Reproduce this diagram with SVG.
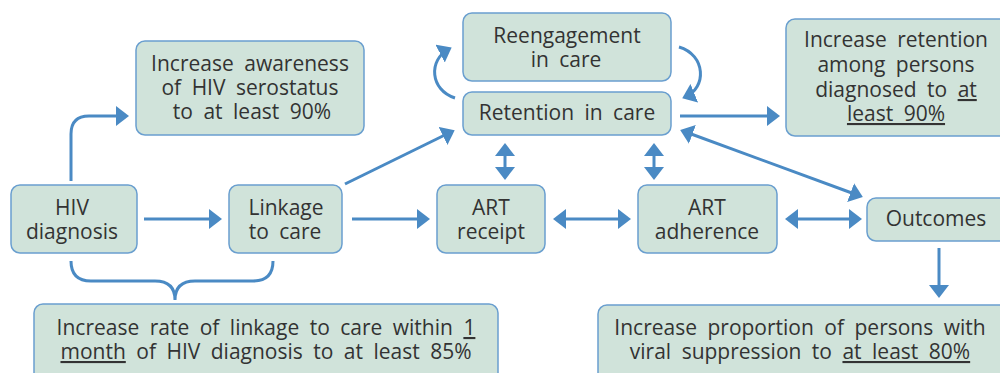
<svg xmlns="http://www.w3.org/2000/svg" width="1000" height="373" viewBox="0 0 1000 373">
<style>
.box{fill:#d0e3da;stroke:#6a9fcf;stroke-width:1.5}
.t{font-family:"Open Sans","Noto Sans",sans-serif;font-size:21px;word-spacing:5px;fill:#333;text-anchor:middle}
.c{fill:none;stroke:#4a8ac4;stroke-width:3}
.u{text-decoration:underline}
</style>
<defs>
<marker id="ah" markerUnits="userSpaceOnUse" markerWidth="13" markerHeight="20" refX="10" refY="10" orient="auto-start-reverse">
<path d="M0,0 L13,10 L0,20 z" fill="#4a8ac4"/>
</marker>
</defs>
<rect width="1000" height="373" fill="#fff"/>
<g id="connectors">
<path class="c" d="M71,181 L71,134 Q71,116 89,116 L126,116" marker-end="url(#ah)"/>
<path class="c" d="M71,261 Q71,281 91,281 L155,281 Q175,281 175,300 Q175,281 195,281 L253,281 Q273,281 273,261"/>
<line class="c" x1="144" y1="219" x2="219" y2="219" marker-end="url(#ah)"/>
<line class="c" x1="352" y1="219" x2="427" y2="219" marker-end="url(#ah)"/>
<line class="c" x1="345" y1="184" x2="452" y2="131.5" marker-end="url(#ah)"/>
<line class="c" x1="556" y1="219" x2="628" y2="219" marker-start="url(#ah)" marker-end="url(#ah)"/>
<line class="c" x1="788" y1="219" x2="859" y2="219" marker-start="url(#ah)" marker-end="url(#ah)"/>
<line class="c" x1="505" y1="146" x2="505" y2="177" marker-start="url(#ah)" marker-end="url(#ah)"/>
<line class="c" x1="654" y1="146" x2="654" y2="177" marker-start="url(#ah)" marker-end="url(#ah)"/>
<line class="c" x1="683" y1="131" x2="860" y2="196" marker-start="url(#ah)" marker-end="url(#ah)"/>
<line class="c" x1="680" y1="116" x2="777" y2="116" marker-end="url(#ah)"/>
<line class="c" x1="939" y1="248" x2="939" y2="295" marker-end="url(#ah)"/>
<path class="c" d="M455,98 C430,90 428,60 449,49" marker-end="url(#ah)"/>
<path class="c" d="M679,47 C706,55 707,88 685,97" marker-end="url(#ah)"/>
</g>
<g id="awareness">
<rect class="box" x="136" y="41" width="228" height="94" rx="9"/>
<text class="t" x="250" y="71">Increase awareness</text>
<text class="t" x="250" y="95">of HIV serostatus</text>
<text class="t" x="252" y="119">to at least 90%</text>
</g>
<g id="reengagement">
<rect class="box" x="463" y="13" width="208" height="68" rx="9"/>
<text class="t" x="567" y="43">Reengagement</text>
<text class="t" x="566" y="67">in care</text>
</g>
<g id="retention">
<rect class="box" x="463" y="92" width="208" height="43" rx="9"/>
<text class="t" x="567" y="120">Retention in care</text>
</g>
<g id="retention-goal">
<rect class="box" x="786" y="19" width="225" height="117" rx="9"/>
<text class="t" x="896" y="47">Increase retention</text>
<text class="t" x="896" y="72">among persons</text>
<text class="t" x="896" y="97"><tspan>diagnosed to </tspan><tspan class="u">at </tspan></text>
<text class="t" x="896" y="121"><tspan class="u">least 90%</tspan></text>
</g>
<g id="hiv-diagnosis">
<rect class="box" x="11" y="185" width="126" height="68" rx="9"/>
<text class="t" x="72" y="215">HIV</text>
<text class="t" x="72" y="239">diagnosis</text>
</g>
<g id="linkage">
<rect class="box" x="229" y="185" width="113" height="68" rx="9"/>
<text class="t" x="286" y="215">Linkage</text>
<text class="t" x="285" y="239">to care</text>
</g>
<g id="art-receipt">
<rect class="box" x="437" y="185" width="108" height="68" rx="9"/>
<text class="t" x="491" y="215">ART</text>
<text class="t" x="491" y="239">receipt</text>
</g>
<g id="art-adherence">
<rect class="box" x="638" y="185" width="139" height="68" rx="9"/>
<text class="t" x="707" y="215">ART</text>
<text class="t" x="707" y="239">adherence</text>
</g>
<g id="outcomes">
<rect class="box" x="867" y="198" width="145" height="43" rx="9"/>
<text class="t" x="936" y="226">Outcomes</text>
</g>
<g id="linkage-goal">
<rect class="box" x="34" y="304" width="464" height="80" rx="9"/>
<text class="t" x="266" y="335"><tspan>Increase rate of linkage to care within </tspan><tspan class="u">1</tspan></text>
<text class="t" x="266" y="359"><tspan class="u">month</tspan><tspan> of HIV diagnosis to at least 85%</tspan></text>
</g>
<g id="suppression-goal">
<rect class="box" x="598" y="305" width="412" height="80" rx="9"/>
<text class="t" x="800" y="335">Increase proportion of persons with</text>
<text class="t" x="800" y="359"><tspan>viral suppression to </tspan><tspan class="u">at least 80%</tspan></text>
</g>
</svg>
